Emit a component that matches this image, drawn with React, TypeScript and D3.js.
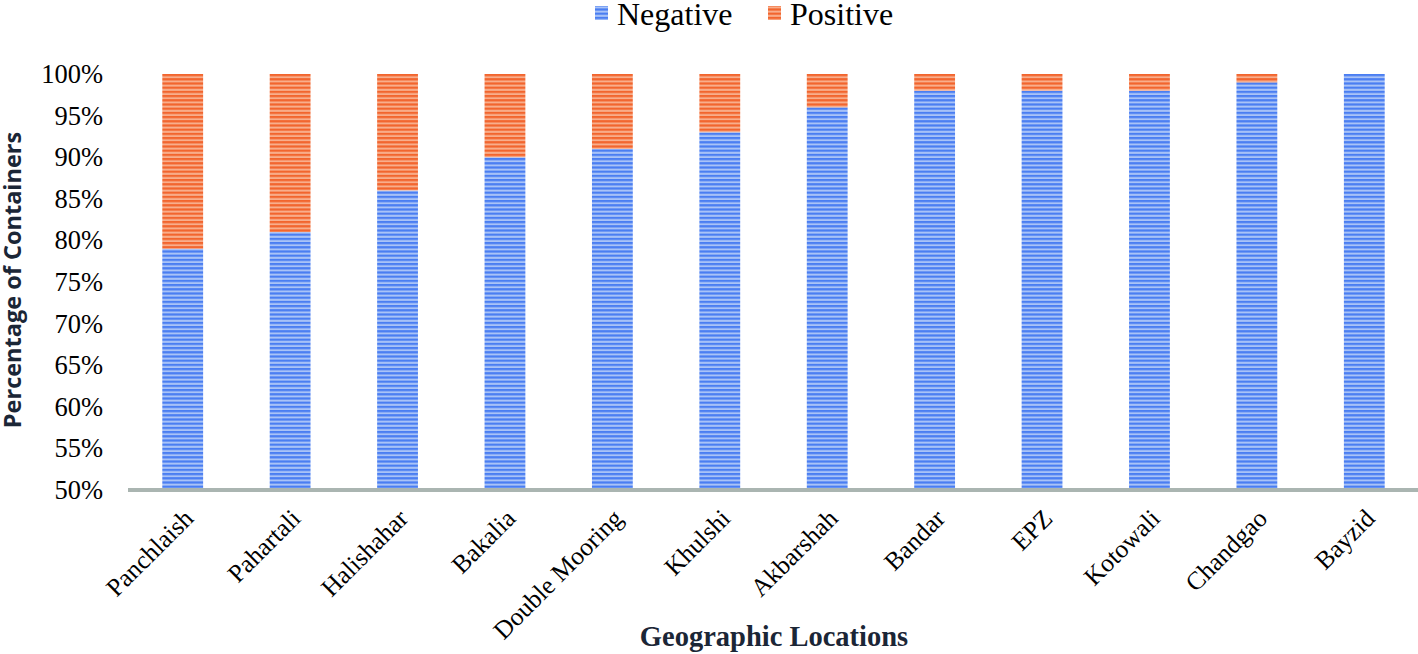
import { useEffect, useRef } from 'react';
import * as d3 from 'd3';

const categories = ['Panchlaish', 'Pahartali', 'Halishahar', 'Bakalia', 'Double Mooring', 'Khulshi', 'Akbarshah', 'Bandar', 'EPZ', 'Kotowali', 'Chandgao', 'Bayzid'];
const negative = [79, 81, 86, 90, 91, 93, 96, 98, 98, 98, 99, 100];
const positive = [21, 19, 14, 10, 9, 7, 4, 2, 2, 2, 1, 0];
const yTicks = [50, 55, 60, 65, 70, 75, 80, 85, 90, 95, 100];

const W = 1418;
const H = 654;
const margin = { top: 74, right: 0, bottom: 164, left: 129 };
const serif = '"Liberation Serif", "Times New Roman", serif';

export default function App() {
  const svgRef = useRef<SVGSVGElement>(null);

  useEffect(() => {
    if (!svgRef.current) return;
    const svg = d3.select(svgRef.current);
    svg.selectAll('*').remove();

    const innerW = W - margin.left - margin.right;
    const innerH = H - margin.top - margin.bottom;

    const x = d3.scaleBand().domain(categories).range([0, innerW]).paddingInner(0.62).paddingOuter(0.31);
    const y = d3.scaleLinear().domain([50, 100]).range([innerH, 0]);

    // striped fills
    const defs = svg.append('defs');
    const mkPattern = (id: string, dark: string, light: string) => {
      const p = defs.append('pattern')
        .attr('id', id)
        .attr('patternUnits', 'userSpaceOnUse')
        .attr('width', 8)
        .attr('height', 4.2);
      p.append('rect').attr('width', 8).attr('height', 4.2).attr('fill', light);
      p.append('rect').attr('width', 8).attr('height', 2.2).attr('fill', dark);
    };
    mkPattern('stripe-neg', '#4a7ef2', '#a9c3f7');
    mkPattern('stripe-pos', '#f2652e', '#f8ae8c');

    const g = svg.append('g').attr('transform', `translate(${margin.left},${margin.top})`);

    // bars
    const rows = categories.map((c, i) => ({ c, neg: negative[i], pos: positive[i] }));
    g.selectAll('.neg')
      .data(rows)
      .enter().append('rect')
      .attr('class', 'neg')
      .attr('x', d => x(d.c) || 0)
      .attr('width', x.bandwidth())
      .attr('y', d => y(d.neg))
      .attr('height', d => y(50) - y(d.neg))
      .attr('fill', 'url(#stripe-neg)');

    g.selectAll('.pos')
      .data(rows.filter(d => d.pos > 0))
      .enter().append('rect')
      .attr('class', 'pos')
      .attr('x', d => x(d.c) || 0)
      .attr('width', x.bandwidth())
      .attr('y', d => y(d.neg + d.pos))
      .attr('height', d => y(d.neg) - y(d.neg + d.pos))
      .attr('fill', 'url(#stripe-pos)');

    // y axis labels
    const yAxis = g.append('g')
      .call(d3.axisLeft(y).tickValues(yTicks).tickSize(0).tickPadding(26).tickFormat(d => `${d}%`));
    yAxis.select('.domain').remove();
    yAxis.selectAll('text')
      .style('font-family', serif)
      .style('font-size', '26.5px')
      .style('fill', '#000');

    // x axis
    const xAxis = g.append('g')
      .attr('transform', `translate(0,${innerH})`)
      .call(d3.axisBottom(x).tickSize(0));
    xAxis.select('.domain').remove();
    xAxis.selectAll('text')
      .attr('y', 0)
      .attr('dy', 0)
      .attr('transform', 'translate(12,30) rotate(-45)')
      .style('text-anchor', 'end')
      .style('font-family', serif)
      .style('font-size', '25.5px')
      .style('fill', '#000');

    g.append('line')
      .attr('x1', -1)
      .attr('x2', innerW)
      .attr('y1', innerH)
      .attr('y2', innerH)
      .attr('stroke', '#aab5b1')
      .attr('stroke-width', 4);

    // axis titles
    svg.append('text')
      .attr('transform', `translate(21,${margin.top + innerH / 2 - 2}) rotate(-90)`)
      .attr('text-anchor', 'middle')
      .style('font-family', '"Open Sans", sans-serif')
      .style('font-weight', 700)
      .style('font-size', '23.5px')
      .style('fill', '#1b2636')
      .text('Percentage of Containers');

    svg.append('text')
      .attr('x', 774)
      .attr('y', 646)
      .attr('text-anchor', 'middle')
      .style('font-family', serif)
      .style('font-weight', 700)
      .style('font-size', '28.5px')
      .style('fill', '#1b2636')
      .text('Geographic Locations');

    // legend
    const legend = [
      { label: 'Negative', fill: 'url(#stripe-neg)', x: 595 },
      { label: 'Positive', fill: 'url(#stripe-pos)', x: 768 },
    ];
    const lg = svg.selectAll('.legend').data(legend).enter().append('g')
      .attr('class', 'legend')
      .attr('transform', d => `translate(${d.x},0)`);
    lg.append('rect').attr('x', 0).attr('y', 6).attr('width', 13).attr('height', 14).attr('fill', d => d.fill);
    lg.append('text')
      .attr('x', 22)
      .attr('y', 25)
      .style('font-family', serif)
      .style('font-size', '32px')
      .style('fill', '#000')
      .text(d => d.label);
  }, []);

  return (
    <svg ref={svgRef} width={W} height={H} style={{ position: 'absolute', left: 0, top: 0, background: '#fff' }} />
  );
}
